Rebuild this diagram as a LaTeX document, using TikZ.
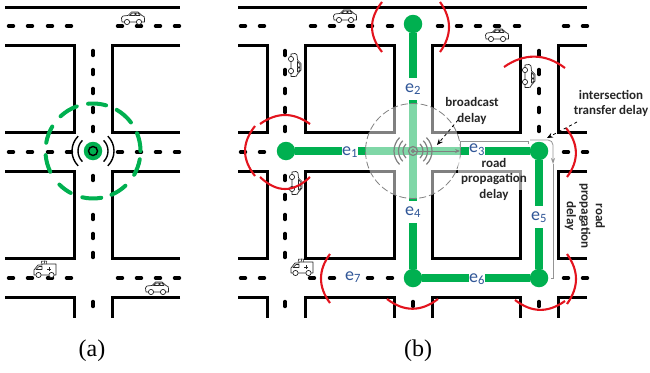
\documentclass[tikz,border=0pt]{standalone}
\usepackage{fontspec}
\setmainfont{Carlito}
\newfontfamily\capfont{Liberation Serif}
\usetikzlibrary{arrows.meta}
\definecolor{rgreen}{HTML}{00B050}
\definecolor{lblue}{HTML}{2F5597}
\definecolor{rred}{HTML}{E3141E}
\tikzset{
  x=1pt,y=-1pt,
  road/.style={line width=3pt,black,line cap=butt,line join=miter},
  dashmark/.style={line width=3.4pt,black,line cap=round},
  greenline/.style={line width=7.5pt,rgreen},
  junction/.style={circle,fill=rgreen,minimum size=18.5pt,inner sep=0pt},
  elabel/.style={fill=white,inner sep=0pt,text=lblue,font=\fontsize{18}{18}\selectfont,minimum width=15pt,minimum height=22pt},
  redarc/.style={line width=2.1pt,rred},
  note/.style={font=\fontsize{13}{15.5}\selectfont\bfseries,text=black!85,align=center,inner sep=0pt},
  hintarrow/.style={line width=.8pt,black,dashed,-{Stealth[length=6pt,width=5pt]}},
  bracket/.style={line width=.8pt,black!42},
  ctext/.style={font=\capfont\fontsize{24}{24}\selectfont,inner sep=0pt},
  icon/.style={line width=.7pt,black!85,fill=white,line join=round},
  carpic/.pic={
    \draw[icon] (-11,4) -- (-11.5,0) .. controls (-11,-2) .. (-5,-2.5) -- (-1.5,-6) -- (5,-6) -- (9,-2.5) .. controls (11.5,-2) .. (11.5,4) -- cycle;
    \draw[icon] (-3.5,-2.5) -- (-0.5,-5) -- (2,-5) -- (2,-2.5) -- cycle (3,-5) -- (5,-5) -- (7,-2.5) -- (3,-2.5) -- cycle;
    \draw[icon] (-6,4) circle (2.6) (6,4) circle (2.6);
  },
  ambpic/.pic={
    \draw[icon] (-11,5) -- (-11,0) -- (-7,-5) -- (-3,-5) -- (-3,-6) -- (11,-6) -- (11,5) -- cycle;
    \draw[icon] (-9,-0.5) -- (-6,-3.5) -- (-3,-3.5) -- (-3,-0.5) -- cycle;
    \draw[line width=.8pt,black!85] (4,-3) -- (4,1) (2,-1) -- (6,-1);
    \draw[line width=.5pt,black!85] (-4,-6) -- (-3,-9) (-1,-6) -- (0,-9.5) (1.5,-6) -- (1.5,-9) (-4,-9) -- (2,-9);
    \draw[icon] (-6.5,5) circle (2.6) (6.5,5) circle (2.6);
  },
}
\begin{document}
\begin{tikzpicture}
\useasboundingbox (0,0) rectangle (650,372);
% ---------- panel (a) roads
\draw[road] (5,7) -- (180,7);
\draw[road] (5,45) -- (74,45) -- (74,132) -- (5,132);
\draw[road] (180,45) -- (112,45) -- (112,132) -- (180,132);
\draw[road] (5,171) -- (74,171) -- (74,258) -- (5,258);
\draw[road] (180,171) -- (112,171) -- (112,258) -- (180,258);
\draw[road] (5,297) -- (74,297) -- (74,318);
\draw[road] (180,297) -- (112,297) -- (112,318);
\foreach \yy in {26,152,278}
  \foreach \xx in {11,30,50,69,120,139,158,177}
    \draw[dashmark] (\xx-2.5,\yy) -- (\xx+2.5,\yy);
\foreach \yy in {53,72,91,110,129,178,217,236,255,304}
  \draw[dashmark] (93,\yy-2.5) -- (93,\yy+2.5);
\pic at (133,18) {carpic};
\pic at (157,288) {carpic};
\pic at (45,270) {ambpic};
% beacon of panel (a)
\node[junction] (sa) at (93,151) {};
\draw[line width=1.4pt,black] (sa) circle (4.5);
\foreach \rr in {15,21}{
  \draw[line width=1.4pt,black] (93,151) ++(135:\rr) arc[start angle=135,end angle=225,radius=\rr];
  \draw[line width=1.4pt,black] (93,151) ++(-45:\rr) arc[start angle=-45,end angle=45,radius=\rr];
}
\foreach \aa/\bb in {96/74,60/37,22/0,-10/-30,-47/-67,-80/-103,-118/-135,-154/-175,170/149,133/110}
  \draw[line width=4pt,rgreen,line cap=round] (93,151) ++(-\aa:47.5) arc[start angle=-\aa,end angle=-\bb,radius=47.5];
\node[ctext] (capa) at (92,351) {(a)};
% ---------- panel (b) roads
\draw[road] (238,7) -- (587,7);
\draw[road] (238,45) -- (267,45) -- (267,132) -- (238,132);
\draw[road] (238,171) -- (267,171) -- (267,258) -- (238,258);
\draw[road] (238,297) -- (267,297) -- (267,318);
\foreach \xa/\xb in {305/394,432/520}{
  \draw[road] (\xa,45) -- (\xb,45) -- (\xb,132) -- (\xa,132) -- cycle;
  \draw[road] (\xa,171) -- (\xb,171) -- (\xb,258) -- (\xa,258) -- cycle;
  \draw[road] (\xa,318) -- (\xa,297) -- (\xb,297) -- (\xb,318);
}
\draw[road] (587,45) -- (558,45) -- (558,132) -- (587,132);
\draw[road] (587,171) -- (558,171) -- (558,258) -- (587,258);
\draw[road] (587,297) -- (558,297) -- (558,318);
\foreach \xx in {243,262,313,332,351,370,390,440,459,478,497,517,566,585}
  \draw[dashmark] (\xx-2.5,26) -- (\xx+2.5,26);
\foreach \xx in {243,262,566,585}
  \draw[dashmark] (\xx-2.5,152) -- (\xx+2.5,152);
\foreach \xx in {243,262,312,332,370,390,566,585}
  \draw[dashmark] (\xx-2.5,278) -- (\xx+2.5,278);
\foreach \yy in {53,72,91,110,129,178,197,217,236,255,304}
  \draw[dashmark] (285,\yy-2.5) -- (285,\yy+2.5);
\foreach \yy in {53,72,91,110,129,304}
  \draw[dashmark] (539,\yy-2.5) -- (539,\yy+2.5);
\draw[dashmark] (413,301.5) -- (413,306.5);
% ---------- graph of road segments
\node[junction] (n2) at (413,24) {};
\node[junction] (n1) at (286,151) {};
\node[junction] (n3) at (539,151) {};
\node[junction] (n4) at (413,278) {};
\node[junction] (n5) at (539,278) {};
\coordinate (hub) at (413,151);
\draw[greenline] (n1) -- (hub);
\draw[greenline] (n2) -- (hub);
\draw[greenline] (hub) -- (n3);
\draw[greenline] (hub) -- (n4);
\draw[greenline] (n3) -- (n5);
\draw[greenline] (n4) -- (n5);
\node[elabel] (e1) at (350,152) {e\textsubscript{1}};
\node[elabel] (e2) at (413,89) {e\textsubscript{2}};
\node[elabel,minimum width=14pt,minimum height=12pt] (e3) at (477,149.5) {e\textsubscript{3}};
\node[elabel] (e4) at (413,212) {e\textsubscript{4}};
\node[elabel] (e5) at (539,217) {e\textsubscript{5}};
\node[elabel,minimum width=14pt] (e6) at (477,279) {e\textsubscript{6}};
\node[elabel,minimum width=20pt,minimum height=16pt] (e7) at (353,277) {e\textsubscript{7}};
% translucent broadcast disc
\node[circle,minimum size=95pt,inner sep=0pt,draw=black!50,line width=.8pt,dash pattern=on 7pt off 3pt,fill=white,fill opacity=.5,draw opacity=1] (disc) at (hub) {};
\fill[white,opacity=.6] (458,158) rectangle (525,190);
\draw[line width=1.2pt,black!50] (hub) circle (4.5);
\draw[line width=1.1pt,black!50] (hub) circle (1.5);
\foreach \rr in {10,14.5,19}{
  \draw[line width=1.2pt,black!50] (413,151) ++(135:\rr) arc[start angle=135,end angle=225,radius=\rr];
  \draw[line width=1.2pt,black!50] (413,151) ++(-45:\rr) arc[start angle=-45,end angle=45,radius=\rr];
}
\coordinate (dr) at (460,151);
\draw[line width=.9pt,black!50,-{Stealth[length=5pt,width=4pt]}] (hub) -- (dr);
% vehicles
\pic at (345,16) {carpic};
\pic at (497,35) {carpic};
\pic[rotate=-90] at (295,65) {carpic};
\pic[rotate=-90] at (529,76) {carpic};
\pic[rotate=-90] at (296,183) {carpic};
\pic at (302,268) {ambpic};
% red range arcs
\draw[redarc] (382,2) .. controls (368.7,18.7) and (368.7,35.3) .. (382,52);
\draw[redarc] (440,2) .. controls (452,18.7) and (452,35.3) .. (440,52);
\draw[redarc] (504,67) .. controls (524,53) and (545,53) .. (565,68);
\draw[redarc] (566,128) .. controls (579,144) and (579,161) .. (567,177);
\draw[redarc] (260,124) .. controls (277,112) and (293,112) .. (310,124);
\draw[redarc] (255,126) .. controls (241.7,143) and (241.7,159) .. (255,176);
\draw[redarc] (260,177) .. controls (277,193) and (293,193) .. (310,177);
\draw[redarc] (330,254) .. controls (318,270) and (318,287) .. (330,303);
\draw[redarc] (387,299) .. controls (404,312) and (421,312) .. (438,299);
\draw[redarc] (515,300) .. controls (532,313) and (548,313) .. (565,301);
\draw[redarc] (567,254) .. controls (579,271) and (579,287) .. (567,304);
% delay brackets
\draw[bracket] (460,148) -- (460,141) -- (528,141) -- (528,144);
\draw[bracket,rounded corners=5pt,-{Stealth[length=6pt,width=4pt]}] (530,140) -- (553,140) -- (553,164);
\draw[bracket] (553,164) -- (553,278) -- (551,278);
% texts
\node[note] (tb) at (472,111) {broadcast\\delay};
\node[note] (ti) at (611,103.5) {intersection\\transfer delay};
\node[note] (tr) at (494,179) {road\\propagation\\delay};
\node[note,rotate=-90] (tv) at (585,216) {road\\[-1pt]propagation\\[-1pt]delay};
\coordinate (hb) at (437,145);
\coordinate (hi) at (547,138);
\draw[hintarrow] (458,120) -- (hb);
\draw[hintarrow] (577,122) -- (hi);
\node[ctext] (capb) at (418,351) {(b)};
\end{tikzpicture}
\end{document}
